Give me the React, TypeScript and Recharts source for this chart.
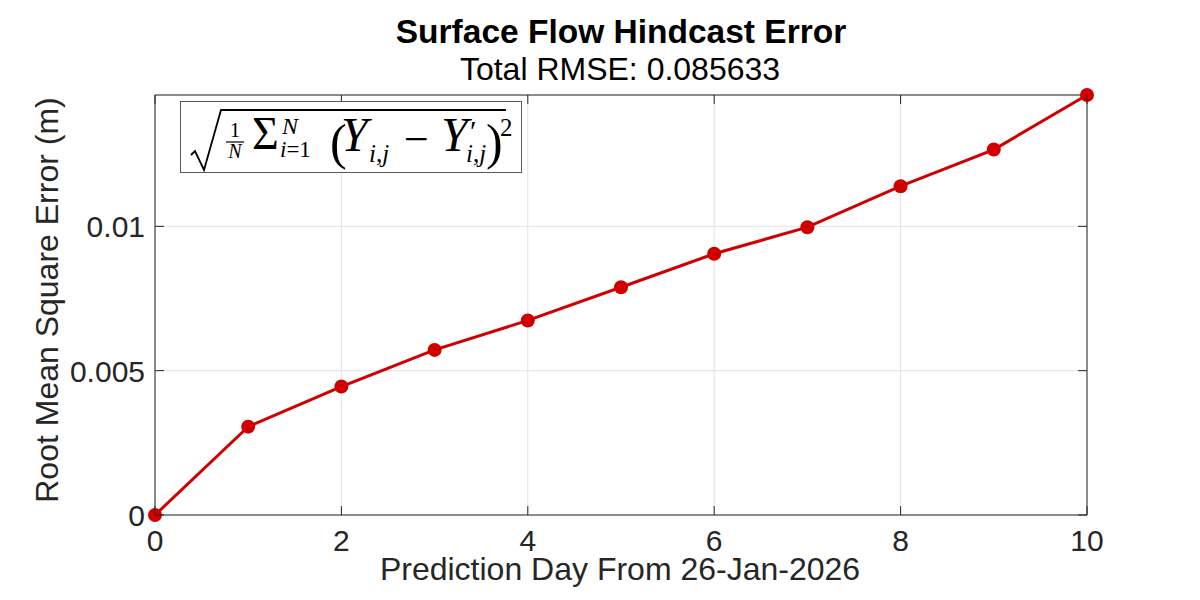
import React from "react"
import { LineChart, Line, XAxis, YAxis, CartesianGrid } from "recharts"

// prediction day vs RMSE
const days = [0, 1, 2, 3, 4, 5, 6, 7, 8, 9, 10]
const rmse = [0, 0.00306, 0.00445, 0.00572, 0.00674, 0.00789, 0.00905, 0.00997, 0.01139, 0.01266, 0.01455]

const xTicks = [0, 2, 4, 6, 8, 10]
const yTicks = [0, 0.005, 0.01]
const yTickLabels = ["0", "0.005", "0.01"]

const title = "Surface Flow Hindcast Error"
const subtitle = "Total RMSE: 0.085633"
const xLabel = "Prediction Day From 26-Jan-2026"
const yLabel = "Root Mean Square Error (m)"

const chartData = days.map((d, i) => ({ day: d, rmse: rmse[i] }))

const FONT = '"Liberation Sans", Arial, Helvetica, sans-serif'
const MATH = '"Liberation Serif", "Times New Roman", serif'
const AXIS = "#262626"
const RED = "#d00000"
const TICK = 9

const BottomTick = (props: any) => {
  const { x, y, payload } = props
  return (
    <g>
      <line x1={x} y1={y} x2={x} y2={y - TICK} stroke={AXIS} strokeWidth={1} />
      <text x={x} y={y + 36} textAnchor="middle" fontSize={30} fill={AXIS} fontFamily={FONT}>
        {payload.value}
      </text>
    </g>
  )
}

const LeftTick = (props: any) => {
  const { x, y, payload } = props
  const idx = yTicks.indexOf(payload.value)
  return (
    <g>
      <line x1={x} y1={y} x2={x + TICK} y2={y} stroke={AXIS} strokeWidth={1} />
      <text x={x - 10} y={y + 11} textAnchor="end" fontSize={30} fill={AXIS} fontFamily={FONT}>
        {idx >= 0 ? yTickLabels[idx] : payload.value}
      </text>
    </g>
  )
}

const TopTick = (props: any) => {
  const { x, y } = props
  return <line x1={x} y1={y} x2={x} y2={y + TICK} stroke={AXIS} strokeWidth={1} />
}

const RightTick = (props: any) => {
  const { x, y } = props
  return <line x1={x} y1={y} x2={x - TICK} y2={y} stroke={AXIS} strokeWidth={1} />
}

function Formula() {
  return (
    <div
      style={{
        position: "absolute",
        left: 180,
        top: 101,
        width: 340,
        height: 70,
        border: "1.5px solid #5a5a5a",
        background: "#fff",
      }}
    >
      <svg width={340} height={70} style={{ display: "block" }} fontFamily={MATH} fill="#000">
        <path d="M 10 53 L 14 49 L 23 68 L 40 8 L 325 8" fill="none" stroke="#000" strokeWidth={1.8} />
        <text x={54} y={35} fontSize={21} textAnchor="middle">1</text>
        <line x1={45} y1={40} x2={63} y2={40} stroke="#000" strokeWidth={1.2} />
        <text x={54} y={56} fontSize={20} textAnchor="middle" fontStyle="italic">N</text>
        <text x={71} y={47} fontSize={46}>Σ</text>
        <text x={101} y={32} fontSize={24} fontStyle="italic">N</text>
        <text x={99} y={55} fontSize={23}>
          <tspan fontStyle="italic">i</tspan>=1
        </text>
        <text x={149} y={57} fontSize={50}>(</text>
        <text x={160} y={49} fontSize={48} fontStyle="italic">Y</text>
        <text x={188} y={60} fontSize={25} fontStyle="italic">i,j</text>
        <text x={223} y={52} fontSize={44}>−</text>
        <text x={260} y={49} fontSize={48} fontStyle="italic">Y</text>
        <text x={289} y={39} fontSize={30}>′</text>
        <text x={285} y={60} fontSize={25} fontStyle="italic">i,j</text>
        <text x={305} y={57} fontSize={50}>)</text>
        <text x={319} y={34} fontSize={25}>2</text>
      </svg>
    </div>
  )
}

export default function App() {
  return (
    <div style={{ position: "absolute", left: 0, top: 0, width: 1200, height: 600, background: "#fff" }}>
      <LineChart
        width={1200}
        height={600}
        data={chartData}
        margin={{ top: 94, right: 112, left: 75, bottom: 45 }}
      >
        <CartesianGrid stroke="#e3e3e3" strokeWidth={1} />
        <XAxis
          dataKey="day"
          type="number"
          domain={[0, 10]}
          ticks={xTicks}
          height={40}
          tickSize={0}
          tickMargin={0}
          tick={<BottomTick />}
          axisLine={{ stroke: AXIS, strokeWidth: 1 }}
          tickLine={false}
        />
        <XAxis
          xAxisId="top"
          orientation="top"
          dataKey="day"
          type="number"
          domain={[0, 10]}
          ticks={xTicks}
          height={1}
          tickSize={0}
          tickMargin={0}
          tick={<TopTick />}
          axisLine={{ stroke: AXIS, strokeWidth: 1 }}
          tickLine={false}
        />
        <YAxis
          type="number"
          domain={[0, "dataMax"]}
          ticks={yTicks}
          width={80}
          tickSize={0}
          tickMargin={0}
          tick={<LeftTick />}
          axisLine={{ stroke: AXIS, strokeWidth: 1 }}
          tickLine={false}
        />
        <YAxis
          yAxisId="right"
          orientation="right"
          type="number"
          domain={[0, "dataMax"]}
          ticks={yTicks}
          width={1}
          tickSize={0}
          tickMargin={0}
          tick={<RightTick />}
          axisLine={{ stroke: AXIS, strokeWidth: 1 }}
          tickLine={false}
        />
        <Line
          type="linear"
          dataKey="rmse"
          stroke={RED}
          strokeWidth={3}
          dot={{ r: 7, fill: RED, stroke: RED, strokeWidth: 0 }}
          activeDot={false}
          isAnimationActive={false}
        />
        <Line
          yAxisId="right"
          xAxisId="top"
          type="linear"
          dataKey="rmse"
          stroke="none"
          strokeWidth={0}
          dot={false}
          activeDot={false}
          isAnimationActive={false}
        />
        <text x={621} y={43} textAnchor="middle" fontSize={33.5} fontWeight="bold" fill="#000" fontFamily={FONT}>
          {title}
        </text>
        <text x={620} y={80} textAnchor="middle" fontSize={32} fill="#000" fontFamily={FONT}>
          {subtitle}
        </text>
        <text x={620} y={580} textAnchor="middle" fontSize={32} fill={AXIS} fontFamily={FONT}>
          {xLabel}
        </text>
        <text
          x={58}
          y={300}
          textAnchor="middle"
          fontSize={32}
          fill={AXIS}
          fontFamily={FONT}
          transform="rotate(-90 58 300)"
        >
          {yLabel}
        </text>
      </LineChart>
      <Formula />
    </div>
  )
}
